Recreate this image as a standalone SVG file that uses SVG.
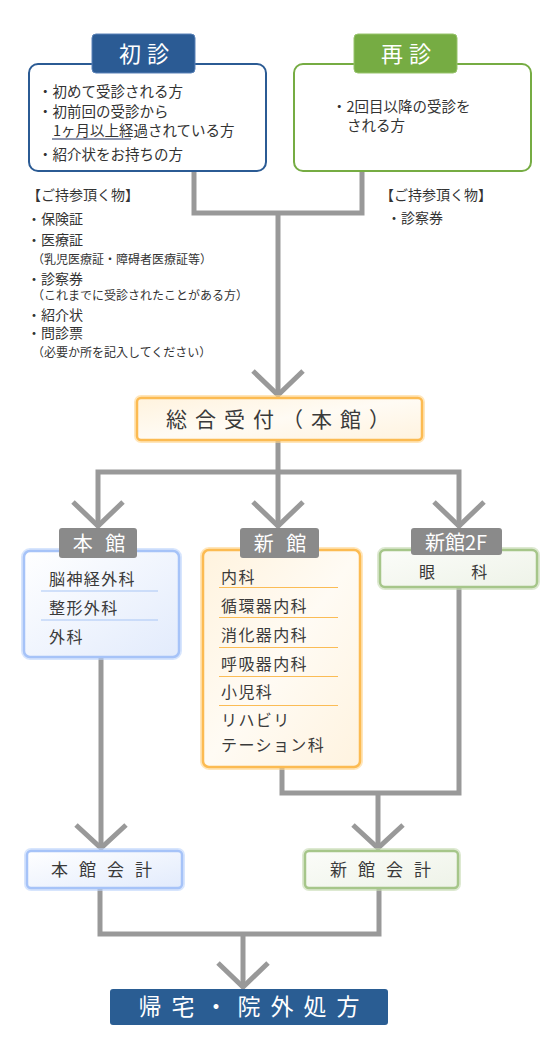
<svg xmlns="http://www.w3.org/2000/svg" width="550" height="1050" viewBox="0 0 550 1050">
<defs>
<style>
text{font-family:"Noto Sans CJK JP","Noto Sans",sans-serif;fill:#333}
.t14{font-size:14px}
.t12{font-size:12px}
.t15{font-size:14.5px}
.dept{font-size:16px;letter-spacing:1.4px;fill:#3a3a3a}
.tab{font-size:21px;fill:#fff}
.conn{stroke:#999;stroke-width:5;fill:none}
.glowB{fill:none;stroke:#bcd3fb;stroke-width:6;opacity:.6}
.glowO{fill:none;stroke:#ffd58e;stroke-width:6;opacity:.6}
.glowG{fill:none;stroke:#c6dbb2;stroke-width:6;opacity:.6}
</style>
<linearGradient id="gB" x1="0" y1="0" x2="1" y2="1"><stop offset="0" stop-color="#ffffff"/><stop offset="1" stop-color="#e2ebfc"/></linearGradient>
<linearGradient id="gO" x1="0" y1="0" x2="1" y2="1"><stop offset="0" stop-color="#fff3de"/><stop offset="0.5" stop-color="#fffbf4"/><stop offset="1" stop-color="#fff3df"/></linearGradient>
<linearGradient id="gG" x1="0" y1="0" x2="1" y2="1"><stop offset="0" stop-color="#fbfcf9"/><stop offset="1" stop-color="#eef3e8"/></linearGradient>
</defs>
<rect width="550" height="1050" fill="#fff"/>

<g id="connectors">
<path class="conn" d="M194 171V213H362V171M278 213V394"/>
<path class="conn" d="M253 371L278 395L303 371"/>
<path class="conn" d="M278 440V472M98 527V472H459V527M278 472V527"/>
<path class="conn" d="M73 502L98 526L123 502M253 502L278 526L303 502M434 502L459 526L484 502"/>
<path class="conn" d="M101 657V847M282 767V793H459V587M378 793V847"/>
<path class="conn" d="M76 825L101 848L126 825M353 825L378 848L403 825"/>
<path class="conn" d="M100 888V934H379V888M243 934V986"/>
<path class="conn" d="M218 963L243 987L268 963"/>
</g>

<g id="shoshin">
<rect x="29" y="64" width="237" height="107" rx="9" fill="#fff" stroke="#2b5b94" stroke-width="2"/>
<rect x="92" y="34" width="103" height="39" rx="4" fill="#2b5b94" stroke="#5a82b8" stroke-width="1"/>
<text class="tab" x="144" y="62" text-anchor="middle" style="font-size:22px;letter-spacing:6px" dx="3">初診</text>
<text class="t15" x="38" y="97">・初めて受診される方</text>
<text class="t15" x="38" y="117">・初前回の受診から</text>
<text class="t15" x="53" y="135.5">1ヶ月以上経過されている方</text>
<line x1="52" y1="139" x2="131" y2="139" stroke="#1f2f5f" stroke-width="1"/>
<text class="t15" x="38" y="160">・紹介状をお持ちの方</text>
</g>

<g id="saishin">
<rect x="294" y="64" width="237" height="107" rx="9" fill="#fff" stroke="#76ac43" stroke-width="2"/>
<rect x="354" y="34" width="103" height="39" rx="4" fill="#76ac43" stroke="#98c46c" stroke-width="1"/>
<text class="tab" x="406" y="62" text-anchor="middle" style="font-size:22px;letter-spacing:6px" dx="3">再診</text>
<text class="t15" x="332" y="112">・2回目以降の受診を</text>
<text class="t15" x="347" y="130.5">される方</text>
</g>

<g id="notes-left">
<text class="t14" x="27" y="200">【ご持参頂く物】</text>
<text class="t14" x="27" y="224">・保険証</text>
<text class="t14" x="27" y="245">・医療証</text>
<text class="t12" x="32" y="264">（乳児医療証・障碍者医療証等）</text>
<text class="t14" x="27" y="284">・診察券</text>
<text class="t12" x="32" y="300">（これまでに受診されたことがある方）</text>
<text class="t14" x="27" y="320">・紹介状</text>
<text class="t14" x="27" y="338">・問診票</text>
<text class="t12" x="32" y="357">（必要か所を記入してください）</text>
</g>

<g id="notes-right">
<text class="t14" x="380" y="200">【ご持参頂く物】</text>
<text class="t14" x="387" y="223">・診察券</text>
</g>

<g id="sogo">
<rect x="137" y="398" width="285" height="42" rx="4" class="glowO"/>
<rect x="137" y="398" width="285" height="42" rx="4" fill="url(#gO)" stroke="#fcbb52" stroke-width="2.5"/>
<text x="282" y="427" text-anchor="middle" style="font-size:21px;letter-spacing:8px;fill:#3a3a3a">総合受付（本館）</text>
</g>

<g id="honkan">
<rect x="24" y="551" width="155" height="106" rx="6" class="glowB"/>
<rect x="24" y="551" width="155" height="106" rx="6" fill="url(#gB)" stroke="#a6c3f8" stroke-width="2.5"/>
<rect x="59" y="528" width="78" height="30" rx="3" fill="#8a8a8a"/>
<text class="tab" x="101" y="551" text-anchor="middle" style="font-size:20px;letter-spacing:4px">本 館</text>
<text class="dept" x="49" y="585">脳神経外科</text>
<line x1="41" y1="591" x2="158" y2="591" stroke="#a9c6f5" stroke-width="1"/>
<text class="dept" x="49" y="614">整形外科</text>
<line x1="41" y1="620" x2="158" y2="620" stroke="#a9c6f5" stroke-width="1"/>
<text class="dept" x="49" y="643">外科</text>
</g>

<g id="shinkan">
<rect x="203" y="550" width="157" height="217" rx="6" class="glowO"/>
<rect x="203" y="550" width="157" height="217" rx="6" fill="url(#gO)" stroke="#fcbb52" stroke-width="2.5"/>
<rect x="240" y="528" width="79" height="30" rx="3" fill="#8a8a8a"/>
<text class="tab" x="282" y="551" text-anchor="middle" style="font-size:20px;letter-spacing:4px">新 館</text>
<text class="dept" x="221" y="583">内科</text>
<line x1="219" y1="587.5" x2="338" y2="587.5" stroke="#fbbc55" stroke-width="1"/>
<text class="dept" x="221" y="612">循環器内科</text>
<line x1="219" y1="617.5" x2="338" y2="617.5" stroke="#fbbc55" stroke-width="1"/>
<text class="dept" x="221" y="641">消化器内科</text>
<line x1="219" y1="647.5" x2="338" y2="647.5" stroke="#fbbc55" stroke-width="1"/>
<text class="dept" x="221" y="670">呼吸器内科</text>
<line x1="219" y1="676.5" x2="338" y2="676.5" stroke="#fbbc55" stroke-width="1"/>
<text class="dept" x="221" y="698">小児科</text>
<line x1="219" y1="705.5" x2="338" y2="705.5" stroke="#fbbc55" stroke-width="1"/>
<text class="dept" x="221" y="726">リハビリ</text>
<text class="dept" x="221" y="751">テーション科</text>
</g>

<g id="shinkan2f">
<rect x="380" y="550" width="157" height="37" rx="5" class="glowG"/>
<rect x="380" y="550" width="157" height="37" rx="5" fill="url(#gG)" stroke="#a6c68a" stroke-width="2.5"/>
<rect x="411" y="528" width="91" height="27" rx="3" fill="#8a8a8a"/>
<text class="tab" x="456" y="550" text-anchor="middle" style="font-size:20px">新館2F</text>
<text class="dept" x="419" y="578">眼　　科</text>
</g>

<g id="honkan-kaikei">
<rect x="27" y="851" width="155" height="37" rx="4" class="glowB"/>
<rect x="27" y="851" width="155" height="37" rx="4" fill="url(#gB)" stroke="#a6c3f8" stroke-width="2.5"/>
<text x="107" y="876" text-anchor="middle" style="font-size:17px;letter-spacing:11px;fill:#3a3a3a">本館会計</text>
</g>

<g id="shinkan-kaikei">
<rect x="305" y="851" width="153" height="37" rx="4" class="glowG"/>
<rect x="305" y="851" width="153" height="37" rx="4" fill="url(#gG)" stroke="#a6c68a" stroke-width="2.5"/>
<text x="386" y="876" text-anchor="middle" style="font-size:17px;letter-spacing:11px;fill:#3a3a3a">新館会計</text>
</g>

<g id="kitaku">
<rect x="110" y="989" width="278" height="36" rx="3" fill="#2a5d93"/>
<text x="254" y="1015" text-anchor="middle" style="font-size:23px;letter-spacing:10px;fill:#fff">帰宅・院外処方</text>
</g>
</svg>
